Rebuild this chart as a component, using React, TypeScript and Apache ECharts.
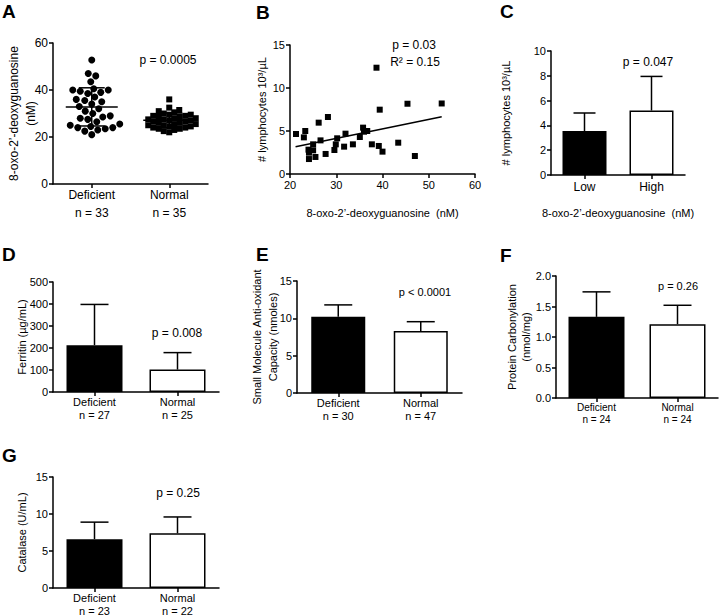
import React, { useEffect, useRef } from "react";
import * as echarts from "echarts";

const FONT = '"Liberation Sans", Arial, Helvetica, sans-serif';

// ---------- Panel A ----------
const aCategories = ["Deficient\nn = 33", "Normal\nn = 35"];
const aDeficient = [
  52.8, 47, 46, 43.5, 40.5, 40, 40, 39.5, 39, 38.5, 37, 36, 35.5, 35, 34, 33, 32,
  31, 30, 29, 28.5, 28, 27.5, 26.5, 25.5, 25, 24.5, 24, 24, 23.5, 23, 22.5, 21,
];
const aNormal = [
  36, 32.5, 31.5, 31, 30.5, 30, 29.5, 29.5, 29, 29, 28.5, 28.5, 28, 28, 27.5, 27.5,
  27, 27, 26.5, 26.5, 26, 26, 25.5, 25.5, 25, 25, 24.5, 24.5, 24, 24, 23.5, 23.5,
  23, 22.5, 22,
];
const aYTicks = [0, 60, 20];
const aP = "p = 0.0005";

// ---------- Panel B ----------
const bPoints: [number, number][] = [
  [21.3, 4.65], [23.3, 5.0], [23.0, 4.26], [26.2, 5.97], [28.2, 6.63], [24.0, 2.83],
  [24.1, 2.48], [25.0, 2.75], [24.1, 1.74], [25.5, 1.98], [25.0, 3.45], [26.6, 3.91],
  [27.7, 2.33], [29.6, 2.79], [29.9, 3.45], [30.2, 4.15], [31.7, 3.18], [32.0, 4.69],
  [33.6, 3.45], [35.1, 4.3], [35.8, 5.39], [36.0, 4.92], [36.7, 5.0], [37.7, 3.45],
  [38.7, 12.36], [39.4, 7.48], [39.2, 3.26], [40.0, 2.6], [43.4, 3.64], [45.4, 8.17],
  [47.0, 2.09], [52.8, 8.2],
];
const bTrend: [number, number][] = [[21.2, 3.17], [52.8, 6.66]];
const bP = "p = 0.03";
const bR2 = "R² = 0.15";

// ---------- Panel C ----------
const cCategories = ["Low", "High"];
const cMeans = [3.55, 5.2];
const cSD = [1.45, 2.75];
const cP = "p = 0.047";

// ---------- Panel D ----------
const dCategories = ["Deficient\nn = 27", "Normal\nn = 25"];
const dMeans = [213, 102];
const dSD = [185, 77];
const dP = "p = 0.008";

// ---------- Panel E ----------
const eCategories = ["Deficient\nn = 30", "Normal\nn = 47"];
const eMeans = [10.2, 8.3];
const eSD = [1.6, 1.25];
const eP = "p < 0.0001";

// ---------- Panel F ----------
const fCategories = ["Deficient\nn = 24", "Normal\nn = 24"];
const fMeans = [1.33, 1.21];
const fSD = [0.41, 0.31];
const fP = "p = 0.26";

// ---------- Panel G ----------
const gCategories = ["Deficient\nn = 23", "Normal\nn = 22"];
const gMeans = [6.6, 7.4];
const gSD = [2.3, 2.2];
const gP = "p = 0.25";

function beeswarm(values: number[], pxPerUnit: number, d: number): number[] {
  const order = values.map((_, i) => i).sort((a, b) => values[a] - values[b]);
  const placed: { x: number; y: number }[] = [];
  const out = new Array(values.length).fill(0);
  order.forEach((idx, k) => {
    const y = values[idx] * pxPerUnit;
    for (let s = 0; s < 200; s += 0.5) {
      const cands = k % 2 === 0 ? [s, -s] : [-s, s];
      let found: number | null = null;
      for (const x of cands) {
        if (placed.every((p) => (p.x - x) ** 2 + (p.y - y) ** 2 >= d * d)) {
          found = x;
          break;
        }
      }
      if (found !== null) {
        placed.push({ x: found, y });
        out[idx] = found;
        break;
      }
    }
  });
  return out;
}

const mean = (a: number[]) => a.reduce((s, v) => s + v, 0) / a.length;
const sd = (a: number[]) => {
  const m = mean(a);
  return Math.sqrt(a.reduce((s, v) => s + (v - m) ** 2, 0) / (a.length - 1));
};

const BLACK = "#000";

export default function App() {
  const ref = useRef<HTMLDivElement>(null);

  useEffect(() => {
    if (!ref.current) return;
    const chart = echarts.init(ref.current, undefined, { renderer: "svg" });

    const grids = [
      { left: 53, top: 43, width: 155, height: 141 },
      { left: 290, top: 45, width: 185, height: 129 },
      { left: 551, top: 51, width: 134, height: 124 },
      { left: 53, top: 282, width: 166, height: 110 },
      { left: 297, top: 281, width: 165, height: 112 },
      { left: 556, top: 276, width: 162, height: 122 },
      { left: 53, top: 477, width: 166, height: 111 },
    ].map((g) => ({ ...g, outerBoundsMode: "none", containLabel: false }));

    const axisLine = { show: true, lineStyle: { color: BLACK, width: 1.5 } };
    const axisTick = { show: true, length: 4, lineStyle: { color: BLACK, width: 1.5 } };

    const catX = (
      gi: number,
      cats: string[],
      fontSize: number,
      lineHeight: number,
      margin: number,
      name?: string,
      nameGap?: number
    ) => ({
      type: "category",
      gridIndex: gi,
      data: cats,
      boundaryGap: true,
      axisLine,
      axisTick: { ...axisTick, alignWithLabel: true },
      axisLabel: { color: BLACK, fontFamily: FONT, fontSize, lineHeight, margin, interval: 0 },
      splitLine: { show: false },
      name,
      nameLocation: "middle",
      nameGap,
      nameMoveOverlap: false,
      nameTextStyle: { color: BLACK, fontFamily: FONT, fontSize: 11 },
    });

    const valY = (
      gi: number,
      min: number,
      max: number,
      interval: number,
      name: string,
      nameGap: number,
      fontSize: number,
      nameFont: number,
      nameLH: number,
      fmt?: (v: number) => string
    ) => ({
      type: "value",
      gridIndex: gi,
      min,
      max,
      interval,
      axisLine,
      axisTick,
      axisLabel: { color: BLACK, fontFamily: FONT, fontSize, margin: 5, formatter: fmt },
      splitLine: { show: false },
      name,
      nameLocation: "middle",
      nameGap,
      nameMoveOverlap: false,
      nameTextStyle: { color: BLACK, fontFamily: FONT, fontSize: nameFont, lineHeight: nameLH },
    });

    const xAxes = [
      catX(0, aCategories, 12, 18, 2),
      {
        type: "value",
        gridIndex: 1,
        min: 20,
        max: 60,
        interval: 10,
        axisLine,
        axisTick,
        axisLabel: { color: BLACK, fontFamily: FONT, fontSize: 11, margin: 5 },
        splitLine: { show: false },
        name: "8-oxo-2’-deoxyguanosine  (nM)",
        nameLocation: "middle",
        nameGap: 33,
        nameMoveOverlap: false,
        nameTextStyle: { color: BLACK, fontFamily: FONT, fontSize: 11 },
      },
      catX(2, cCategories, 12, 14, 5, "8-oxo-2’-deoxyguanosine  (nM)", 32),
      catX(3, dCategories, 11, 13, 3),
      catX(4, eCategories, 11, 13, 3),
      catX(5, fCategories, 10, 12, 3),
      catX(6, gCategories, 11, 13, 3),
    ];

    const yAxes = [
      valY(0, aYTicks[0], aYTicks[1], aYTicks[2], "8-oxo-2’-deoxyguanosine\n(nM)", 14, 12, 12, 17),
      valY(1, 0, 15, 5, "# lymphocytes 10³/µL", 22, 11, 11, 13),
      valY(2, 0, 10, 2, "# lymphocytes 10³/µL", 39, 11, 11, 13),
      valY(3, 0, 500, 100, "Ferritin (µg/mL)", 25, 11, 11, 13),
      valY(4, 0, 15, 5, "Small Molecule Anti-oxidant\nCapacity (nmoles)", 16, 11, 11, 16),
      valY(5, 0, 2, 0.5, "Protein Carbonylation\n(nmol/mg)", 23, 11, 11, 14, (v: number) => v.toFixed(1)),
      valY(6, 0, 15, 5, "Catalase (U/mL)", 25, 11, 11, 13),
    ];

    const series: any[] = [];

    // Panel A scatter
    const pxA = 141 / 60;
    const offDef = beeswarm(aDeficient, pxA, 7.5);
    const offNor = beeswarm(aNormal, pxA, 5.4);
    series.push({
      type: "scatter",
      xAxisIndex: 0,
      yAxisIndex: 0,
      symbol: "circle",
      symbolSize: 7,
      itemStyle: { color: BLACK, opacity: 1 },
      data: aDeficient.map((v, i) => ({ value: [0, v], symbolOffset: [offDef[i], 0] })),
    });
    series.push({
      type: "scatter",
      xAxisIndex: 0,
      yAxisIndex: 0,
      symbol: "rect",
      symbolSize: 6,
      itemStyle: { color: BLACK, opacity: 1 },
      data: aNormal.map((v, i) => ({ value: [1, v], symbolOffset: [offNor[i], 0] })),
    });
    series.push({
      type: "custom",
      xAxisIndex: 0,
      yAxisIndex: 0,
      z: 5,
      data: [
        [0, mean(aDeficient), sd(aDeficient)],
        [1, mean(aNormal), sd(aNormal)],
      ],
      renderItem: (_p: any, api: any) => {
        const x = api.value(0);
        const m = api.value(1);
        const s = api.value(2);
        const pm = api.coord([x, m]);
        const pt = api.coord([x, m + s]);
        const pb = api.coord([x, m - s]);
        const st = { stroke: BLACK, lineWidth: 1.5 };
        return {
          type: "group",
          children: [
            { type: "line", shape: { x1: pm[0] - 26, y1: pm[1], x2: pm[0] + 26, y2: pm[1] }, style: st },
            { type: "line", shape: { x1: pt[0], y1: pt[1], x2: pb[0], y2: pb[1] }, style: st },
            { type: "line", shape: { x1: pt[0] - 13, y1: pt[1], x2: pt[0] + 13, y2: pt[1] }, style: st },
            { type: "line", shape: { x1: pb[0] - 13, y1: pb[1], x2: pb[0] + 13, y2: pb[1] }, style: st },
          ],
        };
      },
    });

    // Panel B
    series.push({
      type: "scatter",
      xAxisIndex: 1,
      yAxisIndex: 1,
      symbol: "rect",
      symbolSize: 6,
      itemStyle: { color: BLACK, opacity: 1 },
      data: bPoints,
    });
    series.push({
      type: "line",
      xAxisIndex: 1,
      yAxisIndex: 1,
      showSymbol: false,
      lineStyle: { color: BLACK, width: 1.5 },
      data: bTrend,
    });

    // Bar panels
    const barPanels = [
      { gi: 2, means: cMeans, sds: cSD, bw: 44, cap: 11 },
      { gi: 3, means: dMeans, sds: dSD, bw: 56, cap: 14 },
      { gi: 4, means: eMeans, sds: eSD, bw: 54, cap: 14 },
      { gi: 5, means: fMeans, sds: fSD, bw: 56, cap: 14 },
      { gi: 6, means: gMeans, sds: gSD, bw: 56, cap: 14 },
    ];
    barPanels.forEach((bp) => {
      series.push({
        type: "bar",
        xAxisIndex: bp.gi,
        yAxisIndex: bp.gi,
        barWidth: bp.bw,
        data: bp.means.map((v, i) => ({
          value: v,
          itemStyle: { color: i === 0 ? BLACK : "#fff", borderColor: BLACK, borderWidth: 1.5 },
        })),
      });
      series.push({
        type: "custom",
        xAxisIndex: bp.gi,
        yAxisIndex: bp.gi,
        z: 5,
        data: bp.means.map((v, i) => [i, v, bp.sds[i]]),
        renderItem: (_p: any, api: any) => {
          const x = api.value(0);
          const m = api.value(1);
          const s = api.value(2);
          const p0 = api.coord([x, m]);
          const p1 = api.coord([x, m + s]);
          const st = { stroke: BLACK, lineWidth: 1.5 };
          return {
            type: "group",
            children: [
              { type: "line", shape: { x1: p0[0], y1: p0[1], x2: p1[0], y2: p1[1] }, style: st },
              { type: "line", shape: { x1: p1[0] - bp.cap, y1: p1[1], x2: p1[0] + bp.cap, y2: p1[1] }, style: st },
            ],
          };
        },
      });
    });

    const letter = (t: string, x: number, y: number) => ({
      type: "text",
      x,
      y,
      style: { text: t, fontFamily: FONT, fontWeight: "bold", fontSize: 19, fill: BLACK, textAlign: "left", textVerticalAlign: "top" },
    });
    const ptext = (t: string, x: number, y: number, fs = 12) => ({
      type: "text",
      x,
      y,
      style: { text: t, fontFamily: FONT, fontSize: fs, fill: BLACK, textAlign: "center", textVerticalAlign: "middle" },
    });

    const graphic = [
      letter("A", 2, 2),
      letter("B", 256, 3),
      letter("C", 500, 2),
      letter("D", 2, 245),
      letter("E", 256, 245),
      letter("F", 500, 246),
      letter("G", 2, 446),
      ptext(aP, 168, 60, 12),
      ptext(bP, 414, 45, 12),
      ptext(bR2, 415, 62, 12),
      ptext(cP, 648, 62, 12),
      ptext(dP, 177, 333, 12),
      ptext(eP, 425, 292, 11),
      ptext(fP, 678, 286, 11),
      ptext(gP, 178, 493, 12),
    ];

    chart.setOption({
      animation: false,
      backgroundColor: "#fff",
      textStyle: { fontFamily: FONT },
      grid: grids,
      xAxis: xAxes,
      yAxis: yAxes,
      series,
      graphic,
    });

    return () => chart.dispose();
  }, []);

  return (
    <div
      ref={ref}
      style={{ position: "absolute", left: 0, top: 0, width: 721, height: 615, background: "#fff" }}
    />
  );
}
